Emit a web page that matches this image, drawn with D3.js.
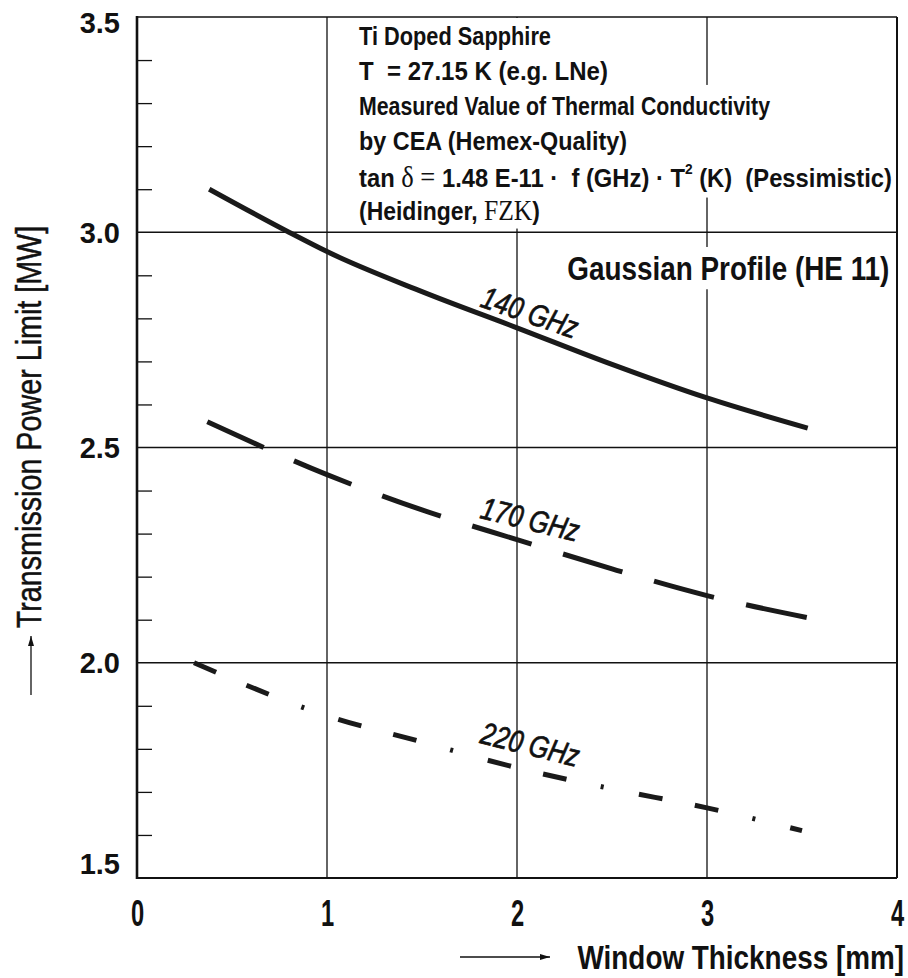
<!DOCTYPE html>
<html>
<head>
<meta charset="utf-8">
<script src="https://cdn.jsdelivr.net/npm/d3@7"></script>
<style>
  body { margin: 0; background: #fff; }
  svg { display: block; }
</style>
</head>
<body>
<div id="main"></div>
<script>
// curve data
var thickness140 = [0.38, 0.8, 1, 1.5, 2, 2.5, 3, 3.53];
var power140     = [3.10, 3.0, 2.955, 2.862, 2.778, 2.693, 2.615, 2.545];
var thickness170 = [0.37, 1, 1.5, 2, 2.5, 3, 3.55];
var power170     = [2.56, 2.437, 2.355, 2.286, 2.218, 2.156, 2.103];
var thickness220 = [0.3, 1, 1.5, 2, 2.5, 3, 3.5];
var power220     = [2.0, 1.877, 1.816, 1.756, 1.707, 1.663, 1.61];
var seriesNames  = ["140 GHz", "170 GHz", "220 GHz"];

var xTicks = [0, 1, 2, 3, 4];
var yTicks = [1.5, 2.0, 2.5, 3.0, 3.5];
var yMinor = [1.6, 1.7, 1.8, 1.9, 2.1, 2.2, 2.3, 2.4, 2.6, 2.7, 2.8, 2.9, 3.1, 3.2, 3.3, 3.4];

var xTitle = "Window Thickness [mm]";
var yTitle = "Transmission Power Limit [MW]";
var profileLabel = "Gaussian Profile (HE 11)";

// no narrow font installed, so regular sans squeezed horizontally
var sans = '"Liberation Sans", Arial, sans-serif';
var serif = '"Liberation Serif", "DejaVu Serif", serif';
var squeeze = 0.82;

var width = 908, height = 978;
var pLeft = 137, pRight = 897, pTop = 17, pBottom = 878;

var x = d3.scaleLinear().domain([0, 4]).range([pLeft, pRight]);
var y = d3.scaleLinear().domain([1.5, 3.5]).range([pBottom, pTop]);

var svg = d3.select("#main").append("svg")
    .attr("width", width).attr("height", height);

var defs = svg.append("defs");
defs.append("marker")
    .attr("id", "arr")
    .attr("viewBox", "0 0 10 6")
    .attr("refX", 10).attr("refY", 3)
    .attr("markerWidth", 10).attr("markerHeight", 6)
    .attr("markerUnits", "userSpaceOnUse")
    .attr("orient", "auto")
  .append("path").attr("d", "M0,0L10,3L0,6Z").attr("fill", "#111");

// grid
var grid = svg.append("g");
grid.selectAll(".vgrid").data([1, 2, 3]).enter().append("line")
    .attr("x1", d => x(d)).attr("x2", d => x(d))
    .attr("y1", pTop).attr("y2", pBottom)
    .attr("stroke", "#111").attr("stroke-width", 1.3);
grid.selectAll(".hgrid").data([2.0, 2.5, 3.0]).enter().append("line")
    .attr("x1", pLeft).attr("x2", pRight)
    .attr("y1", d => y(d)).attr("y2", d => y(d))
    .attr("stroke", "#111").attr("stroke-width", 1.3);

// minor ticks on the left, pointing inward
svg.append("g")
    .attr("transform", "translate(" + pLeft + ",0)")
    .call(d3.axisRight(y).tickValues(yMinor).tickSize(15).tickFormat(""))
    .call(a => a.select(".domain").remove())
    .selectAll("line").attr("stroke", "#111").attr("stroke-width", 1.3);

// text box in the top right cell
var boxX = 359;
var box = svg.append("g")
    .attr("transform", "translate(" + boxX + ",0) scale(" + squeeze + ",1) translate(" + (-boxX) + ",0)");
var boxBg = box.append("g");
var boxText = box.append("g")
    .attr("font-family", sans).attr("font-weight", "bold")
    .attr("font-size", 26).attr("fill", "#111");

var boxLines = [
  [{t: "Ti Doped Sapphire"}],
  [{t: "T  = 27.15 K (e.g. LNe)"}],
  [{t: "Measured Value of Thermal Conductivity"}],
  [{t: "by CEA (Hemex-Quality)"}],
  [{t: "tan "}, {t: "\u03b4 = ", s: 1}, {t: "1.48 E-11 \u00b7  f (GHz) \u00b7 T"}, {t: "2", sup: 1}, {t: " (K)  (Pessimistic)", down: 1}],
  [{t: "(Heidinger, "}, {t: "FZK", s: 1}, {t: ")"}]
];
var baselines = [45, 80, 115, 150, 187, 220];
var lineWidths = [192, 249, 411, 268, 533, 181];   // on-screen widths in the picture

boxLines.forEach(function(line, i) {
  var txt = boxText.append("text")
      .attr("x", boxX).attr("y", baselines[i])
      .attr("textLength", lineWidths[i] / squeeze)
      .attr("lengthAdjust", "spacingAndGlyphs")
      .style("white-space", "pre");
  line.forEach(function(seg) {
    var ts = txt.append("tspan").text(seg.t);
    if (seg.s) ts.attr("font-family", serif).attr("font-weight", "normal")
                 .attr("font-size", 29);
    if (seg.sup) ts.attr("font-size", 15).attr("dy", -13);
    if (seg.down) ts.attr("dy", 13);
  });
});

// white backgrounds behind the text block (in the squeezed space)
var bbs = [];
boxText.selectAll("text").each(function() { bbs.push(this.getBBox()); });
var x1Local = boxX + (x(1) + 2 - boxX) / squeeze;
var rightLocal = boxX + (pRight - 2 - boxX) / squeeze;
var narrowEnd = d3.max([bbs[0], bbs[1], bbs[5]], b => b.x + b.width);
boxBg.append("rect")
    .attr("x", x1Local).attr("y", pTop + 1)
    .attr("width", narrowEnd + 8 - x1Local)
    .attr("height", bbs[5].y + bbs[5].height - pTop + 1)
    .attr("fill", "#fff");
var wideEnd = d3.max([bbs[2], bbs[3], bbs[4]], b => b.x + b.width);
boxBg.append("rect")
    .attr("x", x1Local).attr("y", bbs[2].y - 6)
    .attr("width", Math.min(wideEnd + 8, rightLocal) - x1Local)
    .attr("height", bbs[4].y + bbs[4].height - bbs[2].y + 10)
    .attr("fill", "#fff");

// profile label with white background
var profG = svg.append("g")
    .attr("transform", "translate(" + x(3.96) + "," + y(2.89) + ") scale(" + squeeze + ",1)");
var profBg = profG.append("rect").attr("fill", "#fff");
var prof = profG.append("text")
    .attr("text-anchor", "end")
    .attr("font-family", sans).attr("font-weight", "bold")
    .attr("font-size", 34).attr("fill", "#111")
    .text(profileLabel);
var pb = prof.node().getBBox();
profBg.attr("x", pb.x - 5).attr("y", pb.y - 2)
    .attr("width", pb.width + 8).attr("height", pb.height + 4);

// frame
var frame = svg.append("g").attr("stroke", "#111");
frame.append("line").attr("x1", pLeft).attr("x2", pRight).attr("y1", pTop).attr("y2", pTop)
    .attr("stroke-width", 1.6);
frame.append("line").attr("x1", pRight).attr("x2", pRight).attr("y1", pTop).attr("y2", pBottom)
    .attr("stroke-width", 2);
frame.append("line").attr("x1", pLeft).attr("x2", pRight).attr("y1", pBottom).attr("y2", pBottom)
    .attr("stroke-width", 2.2);
frame.append("line").attr("x1", pLeft).attr("x2", pLeft).attr("y1", pTop - 1).attr("y2", pBottom + 1)
    .attr("stroke-width", 2.6);

// axis labels
var yAxis = svg.append("g")
    .attr("transform", "translate(" + pLeft + ",0)")
    .call(d3.axisLeft(y).tickValues(yTicks).tickSize(0).tickPadding(17)
          .tickFormat(d3.format(".1f")));
yAxis.select(".domain").remove();
yAxis.selectAll("text")
    .attr("font-family", sans)
    .attr("font-weight", "bold").attr("font-size", 29).attr("fill", "#111")
    .attr("dy", function(d) { return d === 3.5 ? "0.55em" : d === 1.5 ? "-0.17em" : "0.34em"; });

var xAxis = svg.append("g")
    .attr("transform", "translate(0," + pBottom + ")")
    .call(d3.axisBottom(x).tickValues(xTicks).tickSize(0).tickPadding(22)
          .tickFormat(d3.format("d")));
xAxis.select(".domain").remove();
xAxis.selectAll("text")
    .attr("font-family", sans).attr("font-weight", "bold")
    .attr("font-size", 37).attr("fill", "#111")
    .attr("transform", "scale(0.64,1)");

svg.append("text")
    .attr("transform", "translate(904,969) scale(" + squeeze + ",1)")
    .attr("text-anchor", "end")
    .attr("font-family", sans).attr("font-weight", "bold")
    .attr("font-size", 34).attr("fill", "#111")
    .text(xTitle);
svg.append("line")
    .attr("x1", 460).attr("x2", 550).attr("y1", 957).attr("y2", 957)
    .attr("stroke", "#111").attr("stroke-width", 1.3)
    .attr("marker-end", "url(#arr)");

svg.append("text")
    .attr("transform", "translate(41,427) rotate(-90) scale(" + squeeze + ",1)")
    .attr("text-anchor", "middle")
    .attr("font-family", sans)
    .attr("font-size", 35).attr("fill", "#111")
    .attr("stroke", "#111").attr("stroke-width", 0.5)
    .text(yTitle);
svg.append("line")
    .attr("x1", 31).attr("x2", 31).attr("y1", 695).attr("y2", 636)
    .attr("stroke", "#111").attr("stroke-width", 1.3)
    .attr("marker-end", "url(#arr)");

// curves
var series = [
  {xs: thickness140, ys: power140, dash: null},
  {xs: thickness170, ys: power170, dash: "62,33"},
  {xs: thickness220, ys: power220, dash: "24,33,24,35,3,36"}
];
var line = d3.line().x(d => x(d[0])).y(d => y(d[1])).curve(d3.curveMonotoneX);
svg.append("g").selectAll("path").data(series).enter().append("path")
    .attr("d", s => line(s.xs.map((v, i) => [v, s.ys[i]])))
    .attr("fill", "none").attr("stroke", "#1a1a1a").attr("stroke-width", 5)
    .attr("stroke-dasharray", s => s.dash);

// curve labels
var labelX = [1.8, 1.8, 1.8];
var labelY = [2.828, 2.337, 1.814];
var labelAngle = [19, 14, 14];
svg.append("g").selectAll("text").data(seriesNames).enter().append("text")
    .attr("transform", (d, i) => "translate(" + x(labelX[i]) + "," + y(labelY[i]) +
          ") rotate(" + labelAngle[i] + ") scale(" + squeeze + ",1)")
    .attr("font-family", sans).attr("font-style", "italic")
    .attr("font-size", 31).attr("fill", "#111")
    .attr("stroke", "#111").attr("stroke-width", 0.7)
    .text(d => d);
</script>
</body>
</html>
